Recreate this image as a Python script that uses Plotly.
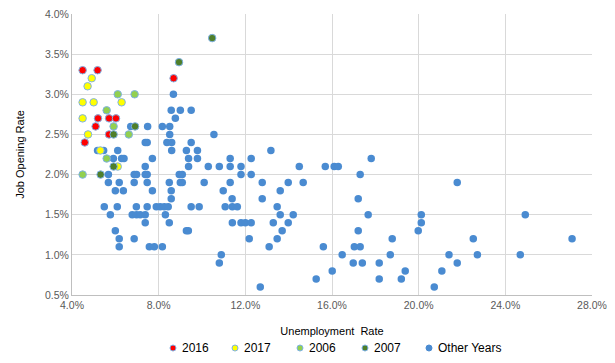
import plotly.graph_objects as go

# Values in percent
x2016 = [4.49, 5.18, 8.69, 5.20, 5.71, 6.03, 5.09, 5.71, 4.59]
y2016 = [3.3, 3.3, 3.2, 2.7, 2.7, 2.7, 2.6, 2.5, 2.4]

x2017 = [4.91, 4.72, 4.49, 5.00, 6.29, 4.49, 4.74, 5.31, 6.11]
y2017 = [3.2, 3.1, 2.9, 2.9, 2.9, 2.7, 2.5, 2.3, 2.1]

x2006 = [6.11, 6.89, 5.60, 5.92, 6.62, 5.60, 4.49]
y2006 = [3.0, 3.0, 2.8, 2.6, 2.5, 2.2, 2.0]

x2007 = [10.47, 8.94, 6.91, 5.92, 5.92, 5.32]
y2007 = [3.7, 3.4, 2.6, 2.5, 2.1, 2.0]

xother = [
    8.68,
    8.58, 9.00, 9.50,
    8.77,
    6.71, 7.49, 8.17, 8.51,
    8.51, 10.55,
    7.38, 7.47, 8.38, 8.60, 9.50,
    5.18, 5.46, 6.11, 8.60, 9.28, 9.79, 13.18,
    5.91, 6.29, 6.40, 7.71, 9.38, 9.79, 11.30, 12.27, 17.81,
    7.38, 9.38, 10.29, 10.80, 11.30, 11.80, 14.49, 15.69, 16.10, 16.29,
    5.68, 6.87, 6.98, 7.38, 7.47, 8.95, 9.09, 11.80, 12.27, 17.30,
    5.68, 6.18, 6.87, 7.47, 8.49, 9.00, 9.09, 10.10, 11.30, 12.78, 13.98, 14.67, 21.78,
    6.00, 6.37, 7.71, 8.58, 10.98, 13.61,
    8.58, 11.39, 12.78, 17.21,
    5.49, 6.09, 6.97, 7.47, 7.89, 8.07, 8.26, 8.44, 9.50, 9.87, 11.07, 11.40, 11.63, 13.47,
    5.77, 6.78, 6.98, 7.15, 7.38, 8.31, 13.61, 14.21, 17.67, 20.12, 24.92,
    7.38, 8.49, 11.40, 11.80, 12.00, 12.27, 13.29, 13.98, 20.12,
    6.00, 9.28, 9.37, 13.70, 17.21, 19.98,
    6.18, 6.87, 12.18, 13.47, 18.78, 22.52, 27.08,
    6.18, 7.57, 7.80, 8.17, 13.10, 15.60, 17.03, 17.30,
    10.89, 16.47, 18.69, 21.40, 22.71, 24.69,
    10.80, 16.98, 17.40, 18.18, 21.78,
    16.01, 19.38, 21.07,
    15.27, 18.18, 19.20,
    12.69, 20.72,
]
yother = [
    3.0,
    2.8, 2.8, 2.8,
    2.7,
    2.6, 2.6, 2.6, 2.6,
    2.5, 2.5,
    2.4, 2.4, 2.4, 2.4, 2.4,
    2.3, 2.3, 2.3, 2.3, 2.3, 2.3, 2.3,
    2.2, 2.2, 2.2, 2.2, 2.2, 2.2, 2.2, 2.2, 2.2,
    2.1, 2.1, 2.1, 2.1, 2.1, 2.1, 2.1, 2.1, 2.1, 2.1,
    2.0, 2.0, 2.0, 2.0, 2.0, 2.0, 2.0, 2.0, 2.0, 2.0,
    1.9, 1.9, 1.9, 1.9, 1.9, 1.9, 1.9, 1.9, 1.9, 1.9, 1.9, 1.9, 1.9,
    1.8, 1.8, 1.8, 1.8, 1.8, 1.8,
    1.7, 1.7, 1.7, 1.7,
    1.6, 1.6, 1.6, 1.6, 1.6, 1.6, 1.6, 1.6, 1.6, 1.6, 1.6, 1.6, 1.6, 1.6,
    1.5, 1.5, 1.5, 1.5, 1.5, 1.5, 1.5, 1.5, 1.5, 1.5, 1.5,
    1.4, 1.4, 1.4, 1.4, 1.4, 1.4, 1.4, 1.4, 1.4,
    1.3, 1.3, 1.3, 1.3, 1.3, 1.3,
    1.2, 1.2, 1.2, 1.2, 1.2, 1.2, 1.2,
    1.1, 1.1, 1.1, 1.1, 1.1, 1.1, 1.1, 1.1,
    1.0, 1.0, 1.0, 1.0, 1.0, 1.0,
    0.9, 0.9, 0.9, 0.9, 0.9,
    0.8, 0.8, 0.8,
    0.7, 0.7, 0.7,
    0.6, 0.6,
]

x_ticks = [4, 8, 12, 16, 20, 24, 28]
y_ticks = [0.5, 1.0, 1.5, 2.0, 2.5, 3.0, 3.5, 4.0]

BLUE = "#4a8bd1"
RING = "#7fb2e5"

def pct(v):
    return [a / 100 for a in v]

series = [
    ("2016", x2016, y2016, "#ff0000"),
    ("2017", x2017, y2017, "#ffff00"),
    ("2006", x2006, y2006, "#92d050"),
    ("2007", x2007, y2007, "#4f7f2a"),
]

fig = go.Figure()
fig.add_trace(go.Scatter(
    x=pct(xother), y=pct(yother), mode="markers", name="Other Years",
    showlegend=False,
    marker=dict(size=7.5, color=BLUE, line=dict(width=0)),
))
for name, xs, ys, col in series:
    fig.add_trace(go.Scatter(
        x=pct(xs), y=pct(ys), mode="markers", name=name, showlegend=False,
        marker=dict(size=7.5, color=col, line=dict(width=1, color=RING)),
    ))

# Custom legend (Excel-style compact spacing); positions in page pixels
PL, PW, PB, PH = 72, 520, 295, 281  # plot area in page pixels
legend_items = [(n, c) for n, _, _, c in series] + [("Other Years", BLUE)]
marker_px = [173, 235, 300, 365, 429]
leg_y = (PB - 348) / PH
shapes, annots = [], []
for (name, col), mx in zip(legend_items, marker_px):
    xp = (mx - PL) / PW
    shapes.append(dict(type="circle", xref="paper", yref="paper",
                       xsizemode="pixel", ysizemode="pixel",
                       xanchor=xp, yanchor=leg_y, x0=-3, x1=3, y0=-3, y1=3,
                       fillcolor=col, line=dict(color=RING if col != BLUE else BLUE, width=1)))
    annots.append(dict(text=name, xref="paper", yref="paper", x=(mx + 7 - PL) / PW, y=leg_y,
                       xanchor="left", yanchor="middle", showarrow=False,
                       font=dict(size=12, color="#000000")))

# page body has an 8px margin, so figure-relative margins are offset by 8
font = "Liberation Sans, Arial, sans-serif"
fig.update_layout(
    width=615, height=363,
    margin=dict(l=64, r=31, t=6, b=76, autoexpand=False),
    paper_bgcolor="white", plot_bgcolor="white",
    font=dict(family=font, size=11, color="#595959"),
    showlegend=False,
    shapes=shapes, annotations=annots,
    xaxis=dict(
        range=[0.04, 0.28], tickvals=pct(x_ticks), tickformat=".1%",
        automargin=False, ticklabeloverflow="allow",
        showgrid=True, gridcolor="#d9d9d9", gridwidth=1,
        showline=True, linecolor="#bfbfbf", linewidth=1, zeroline=False,
        ticks="", tickfont=dict(size=10.5, color="#595959"),
        title=dict(text="Unemployment  Rate", standoff=17,
                   font=dict(size=11, color="#000000")),
    ),
    yaxis=dict(
        range=[0.005, 0.04], tickvals=pct(y_ticks), tickformat=".1%",
        automargin=False, ticklabeloverflow="allow",
        showgrid=True, gridcolor="#d9d9d9", gridwidth=1,
        showline=True, linecolor="#bfbfbf", linewidth=1, zeroline=False,
        ticks="", tickfont=dict(size=10.5, color="#595959"),
        title=dict(text="Job Opening Rate", standoff=18,
                   font=dict(size=11, color="#000000")),
    ),
)

fig.write_html("out.html")
